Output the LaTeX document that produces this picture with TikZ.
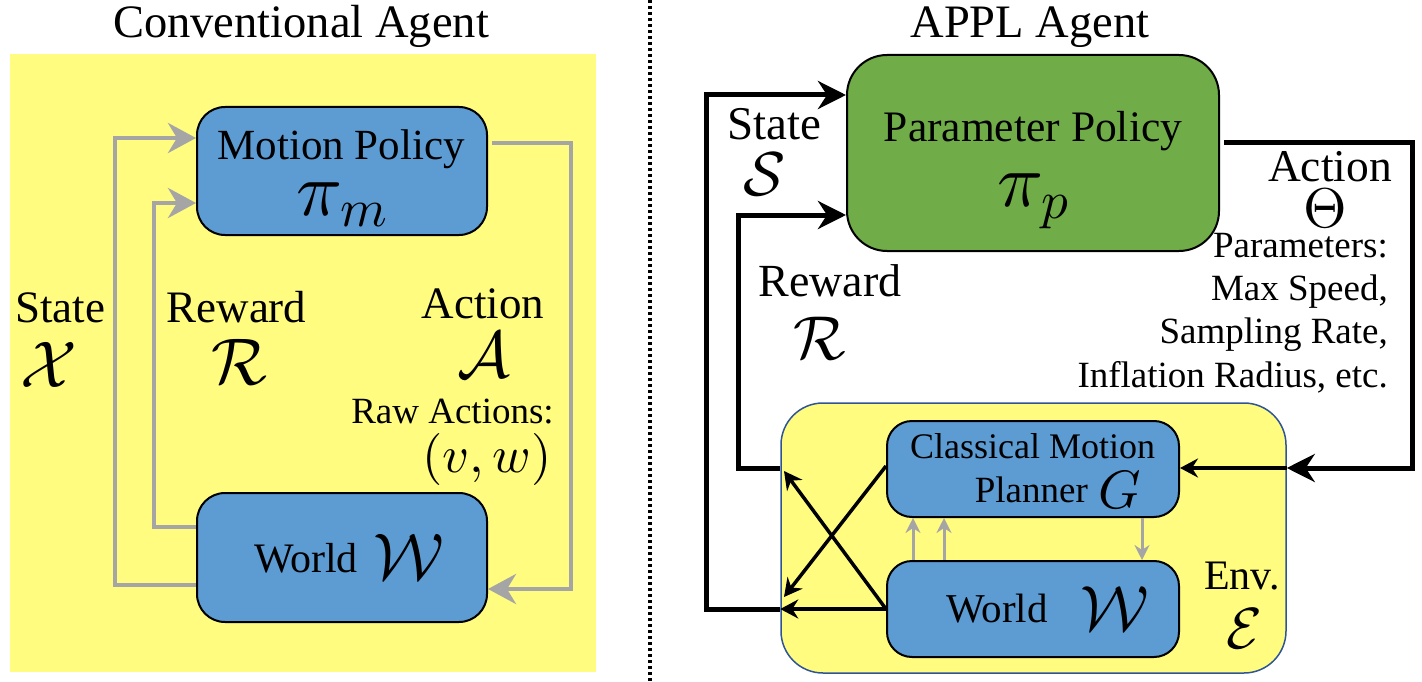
\documentclass[tikz,border=0pt]{standalone}
\usepackage[no-math]{fontspec}
\setmainfont{Liberation Serif}
\DeclareFontShape{OML}{cmm}{m}{it}{<->cmmi10}{}
\DeclareFontShape{OMS}{cmsy}{m}{n}{<->cmsy10}{}
\DeclareFontShape{OT1}{cmr}{m}{n}{<->cmr10}{}
\usetikzlibrary{arrows.meta,calc}
\definecolor{yel}{RGB}{255,252,127}
\definecolor{boxblue}{RGB}{93,155,211}
\definecolor{boxgreen}{RGB}{112,172,72}
\definecolor{lgray}{RGB}{165,165,165}
\definecolor{envblue}{RGB}{47,85,151}
\newcommand{\fs}[1]{\fontsize{#1pt}{#1pt}\selectfont}
\begin{document}
\begin{tikzpicture}[x=1pt,y=-1pt,
  panel/.style={fill=yel, inner sep=0pt, minimum width=586pt, minimum height=618pt},
  bluebox/.style={draw=black, line width=2pt, fill=boxblue, inner sep=0pt},
  txt/.style={inner sep=0pt, anchor=base},
  gline/.style={draw=lgray, line width=4.5pt},
  gtip/.style={-{Stealth[length=28pt,width=30pt,inset=9pt]}},
  gsmall/.style={draw=lgray, line width=3pt, -{Stealth[length=15pt,width=15pt,inset=5pt]}},
  bthick/.style={draw=black, line width=5pt},
  bthin/.style={draw=black, line width=3.5pt},
  btip/.style={-{Stealth[length=28pt,width=28pt,inset=9pt]}},
  bsmall/.style={-{Stealth[length=18pt,width=19pt,inset=6pt]}}]
\useasboundingbox (0,0) rectangle (1422,682);
% panels
\node[panel] (leftpanel) at (303,363) {};
\draw[line width=4pt, dash pattern=on 3pt off 3pt] (650,0) -- (650,682);
% titles
\node[txt] (titleL) at (301,38) {\fs{46.5}Conventional Agent};
\node[txt] (titleR) at (1030,38) {\fs{46.5}APPL Agent};
% left boxes
\node[bluebox, rounded corners=28pt, minimum width=290pt, minimum height=128pt] (mp) at (342,171) {};
\node[bluebox, rounded corners=28pt, minimum width=290pt, minimum height=129pt] (wl) at (342,557.5) {};
\node[txt] (mptxt) at (341,160) {\fs{43}Motion Policy};
\node[txt] (mpsym) at (342,215) {\fs{76}$\pi_m$};
\node[txt] (wltxt) at (306,572) {\fs{42}World};
\node[txt] (wlsym) at (408.5,579) {\fs{66}$\mathcal{W}$};
% left labels
\node[txt] (lstate) at (60,322) {\fs{45}State};
\node[txt] (lX) at (49,387) {\fs{66}$\mathcal{X}$};
\node[txt] (lreward) at (236.5,322) {\fs{45}Reward};
\node[txt] (lR) at (239,384) {\fs{66}$\mathcal{R}$};
\node[txt] (laction) at (483,318) {\fs{45}Action};
\node[txt] (lA) at (484,377) {\fs{66}$\mathcal{A}$};
\node[txt] (lraw) at (452.5,423) {\fs{37}Raw Actions:};
\node[txt] (lvw) at (487,472) {\fs{52}$(v,w)$};
% left connectors
\coordinate (ls1) at (115,585);
\coordinate (ls2) at (115,138);
\coordinate (lr1) at (154,527);
\coordinate (lr2) at (154,203);
\coordinate (la1) at (571,143);
\coordinate (la2) at (571,589);
\draw[gline, gtip] (wl.west |- ls1) -- (ls1) -- (ls2) -- (mp.west |- ls2);
\draw[gline, gtip] (wl.west |- lr1) -- (lr1) -- (lr2) -- (mp.west |- lr2);
\draw[gline, gtip, shorten <=4pt] (mp.east |- la1) -- (la1) -- (la2) -- (wl.east |- la2);
% right boxes
\node[draw=black, line width=2pt, fill=boxgreen, rounded corners=40pt, inner sep=0pt, minimum width=372pt, minimum height=196pt] (pp) at (1033,153) {};
\node[draw=envblue, line width=1.5pt, fill=yel, rounded corners=42pt, inner sep=0pt, minimum width=505pt, minimum height=270pt] (env) at (1033.5,538) {};
\node[bluebox, rounded corners=25pt, minimum width=292pt, minimum height=96pt] (cmp) at (1033,469) {};
\node[bluebox, rounded corners=25pt, minimum width=292pt, minimum height=96pt] (wr) at (1033,609) {};
\node[txt] (pptxt) at (1033,142) {\fs{43.5}Parameter Policy};
\node[txt] (ppsym) at (1033,207) {\fs{76}$\pi_p$};
\node[txt] (cmptxt) at (1032.5,458) {\fs{36}Classical Motion};
\node[txt, anchor=base east] (cmptxt2) at (1088,502) {\fs{37}Planner};
\node[txt] (cmpsym) at (1120,508) {\fs{54}$G$};
\node[txt] (wrtxt) at (997,622) {\fs{41}World};
\node[txt] (wrsym) at (1114.5,630) {\fs{64}$\mathcal{W}$};
\node[txt] (envtxt) at (1242,589) {\fs{42}Env.};
\node[txt] (envsym) at (1244,648) {\fs{58}$\mathcal{E}$};
% right labels
\node[txt] (rstate) at (774,140) {\fs{47}State};
\node[txt] (rS) at (765,195) {\fs{62}$\mathcal{S}$};
\node[txt] (rreward) at (830,296) {\fs{46}Reward};
\node[txt] (rR) at (820,359) {\fs{62}$\mathcal{R}$};
\node[txt] (raction) at (1330,182) {\fs{45.5}Action};
\node[txt] (rTheta) at (1325,227) {\fs{56}$\Theta$};
\node[txt, anchor=base east] (rp1) at (1388,257) {\fs{37}Parameters:};
\node[txt, anchor=base east] (rp2) at (1388,300) {\fs{37}Max Speed,};
\node[txt, anchor=base east] (rp3) at (1388,343) {\fs{37}Sampling Rate,};
\node[txt, anchor=base east] (rp4) at (1388,387) {\fs{37}Inflation Radius, etc.};
% right connectors
\coordinate (rs1) at (706,609);
\coordinate (rs2) at (706,95);
\coordinate (rr1) at (738,468);
\coordinate (rr2) at (738,215);
\coordinate (ra1) at (1412,143);
\coordinate (ra2) at (1412,468);
\coordinate (cx1) at (784,597);
\coordinate (cx2) at (784,471);
\coordinate (cy1) at (0,466);
\draw[bthick, btip] (env.west |- rs1) -- (rs1) -- (rs2) -- (pp.west |- rs2);
\draw[bthick, btip] (env.west |- rr1) -- (rr1) -- (rr2) -- (pp.west |- rr2);
\draw[bthick, btip, shorten <=4pt] (pp.east |- ra1) -- (ra1) -- (ra2) -- (env.east |- ra2);
\draw[bthin, bsmall] (env.east |- ra2) -- (cmp.east |- ra2);
\draw[bthin, bsmall] (wr.west) -- (env.west |- wr.west);
\draw[bthin, bsmall] (cmp.west |- cy1) -- (cx1);
\draw[bthin, bsmall] (wr.west) -- (cx2);
\coordinate (gx1) at (913,0);
\coordinate (gx2) at (944,0);
\coordinate (gx3) at (1142,0);
\draw[gsmall] (wr.north -| gx1) -- (cmp.south -| gx1);
\draw[gsmall] (wr.north -| gx2) -- (cmp.south -| gx2);
\draw[gsmall] (cmp.south -| gx3) -- (wr.north -| gx3);
\end{tikzpicture}
\end{document}
